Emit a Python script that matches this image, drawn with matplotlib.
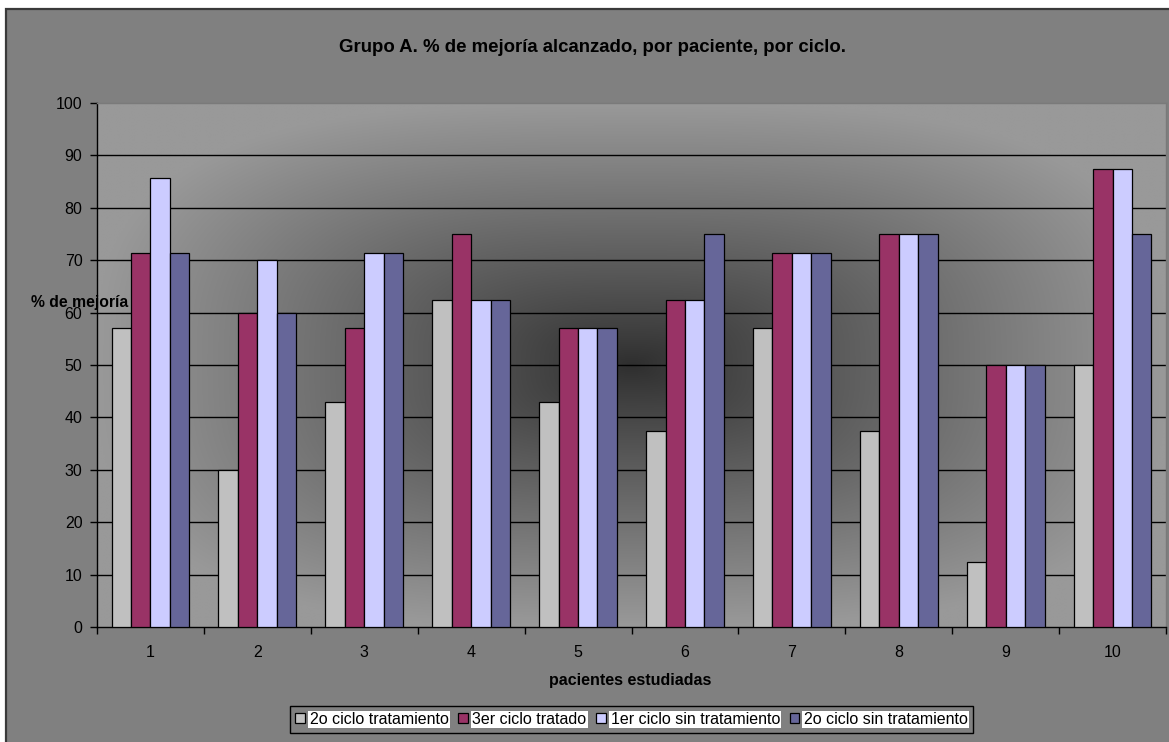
import numpy as np
import matplotlib
matplotlib.use("Agg")
import matplotlib.pyplot as plt
from matplotlib.patches import Rectangle, Patch

plt.rcParams['font.family'] = ['Liberation Sans', 'DejaVu Sans']

pacientes = ["1", "2", "3", "4", "5", "6", "7", "8", "9", "10"]
series_names = ["2o ciclo tratamiento", "3er ciclo tratado",
                "1er ciclo sin tratamiento", "2o ciclo sin tratamiento"]
s_2o_trat = [57.1, 30.0, 42.9, 62.5, 42.9, 37.5, 57.1, 37.5, 12.5, 50.0]
s_3er_trat = [71.4, 60.0, 57.1, 75.0, 57.1, 62.5, 71.4, 75.0, 50.0, 87.5]
s_1er_sin = [85.7, 70.0, 71.4, 62.5, 57.1, 62.5, 71.4, 75.0, 50.0, 87.5]
s_2o_sin = [71.4, 60.0, 71.4, 62.5, 57.1, 75.0, 71.4, 75.0, 50.0, 75.0]
colors = ["#C0C0C0", "#993366", "#CCCCFF", "#666699"]

W, H = 1169, 742
fig = plt.figure(figsize=(W / 100, H / 100), dpi=100)
fig.patch.set_facecolor("white")

# chart area background
bg = Rectangle((6 / W, -0.05), 1.1, (742 - 9) / H + 0.05,
               transform=fig.transFigure, facecolor="#808080",
               edgecolor="#3a3a3a", linewidth=1.6, zorder=-5)
fig.patches.append(bg)

left, right, top, bottom = 97, 1166, 103, 627
ax = fig.add_axes([left / W, 1 - bottom / H, (right - left) / W, (bottom - top) / H])
ax.set_zorder(2)
ax.set_xlim(0.5, 10.5)
ax.set_ylim(0, 100)

# gradient background (from center)
nx, ny = 600, 300
xx = np.linspace(-1, 1, nx)
yy = np.linspace(-1, 1, ny)
X, Y = np.meshgrid(xx, yy)
p = 3.0
t = (np.abs(X) ** p + np.abs(Y) ** p) ** (1 / p)
t = np.clip(t, 0, 1)
val = (46 + 107 * t ** 0.9) / 255.0
img = np.dstack([val, val, val])
ax.imshow(img, extent=[0.5, 10.5, 0, 100], aspect="auto", zorder=0,
          interpolation="bilinear")

# gridlines
for yv in range(10, 100, 10):
    ax.axhline(yv, color="black", linewidth=1.0, zorder=1)

x = np.arange(1, 11)
bw = 1 / 5.5
all_series = [s_2o_trat, s_3er_trat, s_1er_sin, s_2o_sin]
for i, (vals, c) in enumerate(zip(all_series, colors)):
    ax.bar(x + (i - 1.5) * bw, vals, width=bw, color=c, edgecolor="black",
           linewidth=0.9, zorder=3)

for s in ["top", "right"]:
    ax.spines[s].set_color("#7a7a7a")
    ax.spines[s].set_linewidth(1.0)
for s in ["left", "bottom"]:
    ax.spines[s].set_color("black")
    ax.spines[s].set_linewidth(1.0)

ax.set_yticks(range(0, 101, 10))
ax.tick_params(axis="y", direction="out", length=5, width=1, labelsize=11.5,
               colors="black", pad=5.5)
ax.set_xticks(x)
ax.set_xticklabels(pacientes)
ax.tick_params(axis="x", which="major", length=0, labelsize=11.5, pad=13)
ax.set_xticks(np.arange(0.5, 11, 1), minor=True)
ax.tick_params(axis="x", which="minor", direction="out", length=5, width=1)

fig.text(592.5 / W, 1 - 47 / H, "Grupo A. % de mejoría alcanzado, por paciente, por ciclo.",
         ha="center", va="center", fontsize=13.4, fontweight="bold")
fig.text(630 / W, 1 - 680 / H, "pacientes estudiadas", ha="center", va="center",
         fontsize=11.5, fontweight="bold")
fig.text(31 / W, 1 - 302 / H, "% de mejoría", ha="left", va="center",
         fontsize=11.3, fontweight="bold", zorder=10)

handles = [Patch(facecolor=c, edgecolor="black", linewidth=0.9) for c in colors]
leg = fig.legend(handles, series_names, loc="center", ncol=4,
                 bbox_to_anchor=(631.5 / W, 1 - 719.5 / H), frameon=True,
                 fancybox=False, fontsize=11.5, handlelength=0.6, handleheight=0.6,
                 handletextpad=0.3, columnspacing=0.6, borderpad=0.35,
                 borderaxespad=0)
leg.get_frame().set_facecolor("#808080")
leg.get_frame().set_edgecolor("black")
leg.get_frame().set_linewidth(1.0)
leg.get_frame().set_alpha(1)
for tx in leg.get_texts():
    tx.set_bbox(dict(facecolor="white", edgecolor="none", pad=1))

fig.savefig("out.png", dpi=100, facecolor=fig.get_facecolor())
